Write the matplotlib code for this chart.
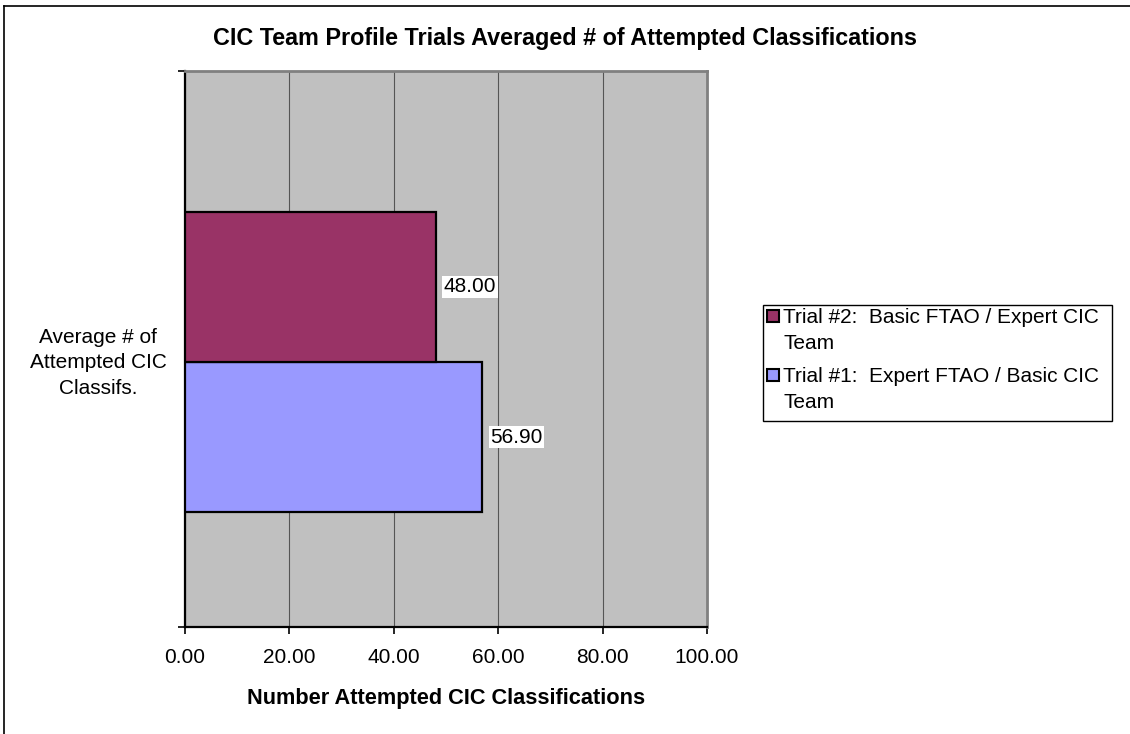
import matplotlib.pyplot as plt
from matplotlib.lines import Line2D
from matplotlib.patches import Rectangle

plt.rcParams['font.family'] = ['Liberation Sans', 'DejaVu Sans']

# donnees
series = ['Trial #1:  Expert FTAO / Basic CIC\nTeam',
          'Trial #2:  Basic FTAO / Expert CIC\nTeam']
values = [56.90, 48.00]
colors = ['#9999FF', '#993366']
category = 'Average # of\nAttempted CIC\nClassifs.'
xticks = [0, 20, 40, 60, 80, 100]

W, H = 1130, 734
fig = plt.figure(figsize=(W / 100, H / 100), dpi=100)
ax = fig.add_axes([185 / W, 1 - 627 / H, 522 / W, 556 / H])
ax.set_facecolor('#C0C0C0')

bar_h = 0.27
offsets = [-bar_h / 2, bar_h / 2]
for val, col, off, lab in zip(values, colors, offsets, series):
    ax.barh(off, val, height=bar_h, color=col, edgecolor='black',
            linewidth=1.6, label=lab, zorder=3)
    ax.text(val + 1.6, off, '%.2f' % val, va='center', ha='left', fontsize=15,
            zorder=4, bbox=dict(facecolor='white', edgecolor='none', pad=1))

ax.set_xlim(0, 100)
ax.set_ylim(-0.4766, 0.5234)
ax.set_xticks(xticks)
ax.set_xticklabels(['%.2f' % t for t in xticks], fontsize=15)
ax.set_yticks([-0.4766, 0.5234])
ax.set_yticklabels([])
ax.tick_params(axis='both', direction='out', length=5, width=1.2, pad=10)
ax.xaxis.grid(True, color='#555555', linewidth=0.8, zorder=1)
ax.set_axisbelow(True)

for s in ['top', 'right']:
    ax.spines[s].set_color('#808080')
    ax.spines[s].set_linewidth(2)
for s in ['left', 'bottom']:
    ax.spines[s].set_linewidth(1.6)

ax.set_xlabel('Number Attempted CIC Classifications', fontsize=15.7,
              fontweight='bold', labelpad=15)
fig.text(98 / W, 1 - 363 / H, category, ha='center', va='center',
         fontsize=15, linespacing=1.46)
fig.text(565 / W, 1 - 38 / H,
         'CIC Team Profile Trials Averaged # of Attempted Classifications',
         ha='center', va='center', fontsize=16.8, fontweight='bold')

# legende (Trial #2 en haut)
fig.add_artist(Rectangle((763 / W, 1 - 421 / H), 349 / W, 116 / H,
                         transform=fig.transFigure, facecolor='white',
                         edgecolor='black', linewidth=1))
for i, k in enumerate([1, 0]):
    y0 = 316 + i * 59
    fig.add_artist(Rectangle((767 / W, 1 - (y0 + 6) / H), 12 / W, 12 / H,
                             transform=fig.transFigure, facecolor=colors[k],
                             edgecolor='black', linewidth=1.5))
    fig.text(783 / W, 1 - (y0 - 8) / H, series[k], ha='left', va='top',
             fontsize=15, linespacing=1.46)

# cadre du graphique
fig.add_artist(Line2D([4 / W, 4 / W], [0, 1 - 6 / H], color='black',
                      linewidth=1.2, transform=fig.transFigure))
fig.add_artist(Line2D([4 / W, 1], [1 - 6 / H, 1 - 6 / H], color='black',
                      linewidth=1.2, transform=fig.transFigure))

fig.savefig('out.png', dpi=100)
